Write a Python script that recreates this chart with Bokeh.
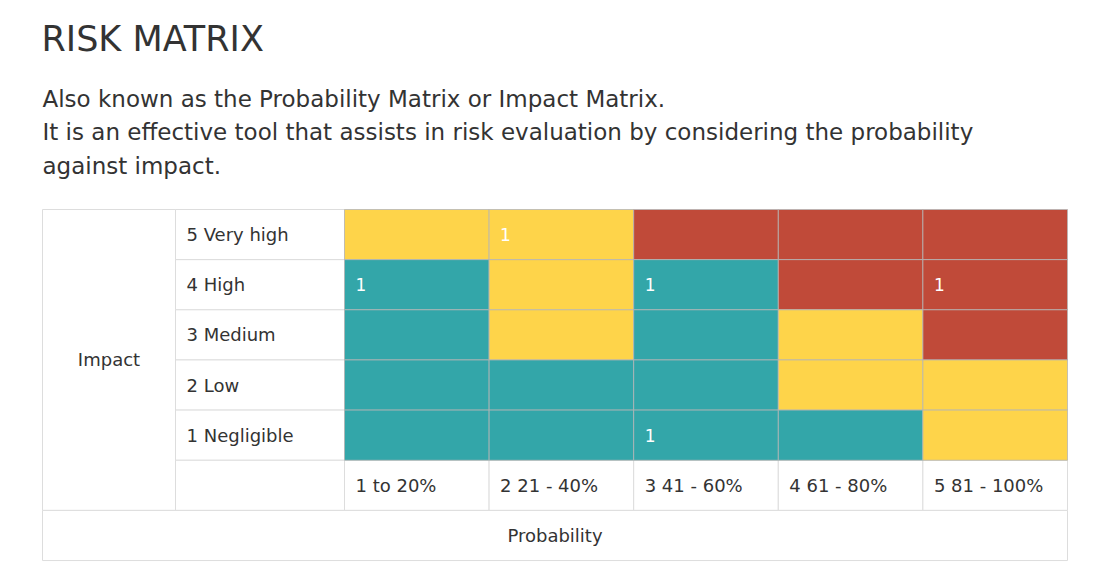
from bokeh.plotting import figure
from bokeh.models import Range1d, ColumnDataSource
from bokeh.core.properties import value
from bokeh.embed import file_html
from bokeh.resources import INLINE

# ---- data ----
title = "RISK MATRIX"
subtitle_lines = [
    "Also known as the Probability Matrix or Impact Matrix.",
    "It is an effective tool that assists in risk evaluation by considering the probability",
    "against impact.",
]
impact_labels = ["5 Very high", "4 High", "3 Medium", "2 Low", "1 Negligible"]
prob_labels = ["1 to 20%", "2 21 - 40%", "3 41 - 60%", "4 61 - 80%", "5 81 - 100%"]
row_very_high = ["medium", "medium", "high", "high", "high"]
row_high = ["low", "medium", "low", "high", "high"]
row_medium = ["low", "medium", "low", "medium", "high"]
row_low = ["low", "low", "low", "medium", "medium"]
row_negligible = ["low", "low", "low", "low", "medium"]
risk_rows = [row_very_high, row_high, row_medium, row_low, row_negligible]
count_very_high = [0, 1, 0, 0, 0]
count_high = [1, 0, 1, 0, 1]
count_medium = [0, 0, 0, 0, 0]
count_low = [0, 0, 0, 0, 0]
count_negligible = [0, 0, 1, 0, 0]
count_rows = [count_very_high, count_high, count_medium, count_low, count_negligible]
axis_y_name = "Impact"
axis_x_name = "Probability"

# ---- styles / layout ----
colors = {"low": "#33a6a9", "medium": "#fed44a", "high": "#c04a39"}
TXT = "#333333"
FONT = value("DejaVu Sans")
W, H = 1094, 565
left, top = 42.0, 209.0
impact_w, label_w = 133.0, 169.0
cell_w, row_h = 144.6, 50.15
grid_left = left + impact_w + label_w

p = figure(width=W, height=H, output_backend="svg", toolbar_location=None,
           x_range=Range1d(0, W), y_range=Range1d(H, 0),
           x_axis_location=None, y_axis_location=None, min_border=0,
           outline_line_color=None)
p.xgrid.visible = False
p.ygrid.visible = False

# title & subtitle
p.text(x=[left - 1], y=[38], text=[title], text_font=FONT, text_font_size="35px",
       text_color=TXT, text_baseline="middle", text_align="left")
p.text(x=[left] * len(subtitle_lines), y=[98 + 33.5 * i for i in range(len(subtitle_lines))],
       text=subtitle_lines, text_font=FONT, text_font_size="23px",
       text_color=TXT, text_baseline="middle", text_align="left")

# white cells with borders
white = dict(x0=[], x1=[], y0=[], y1=[])
def add_white(x0, x1, y0, y1):
    white["x0"].append(x0); white["x1"].append(x1)
    white["y0"].append(y0); white["y1"].append(y1)

total_right = grid_left + 5 * cell_w
add_white(left, left + impact_w, top, top + 6 * row_h)  # Impact
for i in range(6):
    add_white(left + impact_w, grid_left, top + i * row_h, top + (i + 1) * row_h)
for j in range(5):
    add_white(grid_left + j * cell_w, grid_left + (j + 1) * cell_w, top + 5 * row_h, top + 6 * row_h)
add_white(left, total_right, top + 6 * row_h, top + 7 * row_h)  # Probability
p.quad(left="x0", right="x1", top="y0", bottom="y1", source=ColumnDataSource(white),
       fill_color="white", line_color="#dddddd", line_width=1)

# colored cells
cells = dict(x0=[], x1=[], y0=[], y1=[], c=[])
for i, row in enumerate(risk_rows):
    for j, lvl in enumerate(row):
        cells["x0"].append(grid_left + j * cell_w)
        cells["x1"].append(grid_left + (j + 1) * cell_w)
        cells["y0"].append(top + i * row_h)
        cells["y1"].append(top + (i + 1) * row_h)
        cells["c"].append(colors[lvl])
p.quad(left="x0", right="x1", top="y0", bottom="y1", source=ColumnDataSource(cells),
       fill_color="c", line_color="#b5b5b5", line_alpha=0.8, line_width=1)

# counts
cx, cy, ct = [], [], []
for i, row in enumerate(count_rows):
    for j, n in enumerate(row):
        if n:
            cx.append(grid_left + j * cell_w + 11)
            cy.append(top + (i + 0.5) * row_h)
            ct.append(str(n))
p.text(x=cx, y=cy, text=ct, text_font=FONT, text_font_size="17px",
       text_color="white", text_baseline="middle", text_align="left")

# row labels
p.text(x=[left + impact_w + 11] * 5, y=[top + (i + 0.5) * row_h for i in range(5)],
       text=impact_labels, text_font=FONT, text_font_size="18px", text_color=TXT,
       text_baseline="middle", text_align="left")
# column labels
p.text(x=[grid_left + j * cell_w + 11 for j in range(5)], y=[top + 5.5 * row_h] * 5,
       text=prob_labels, text_font=FONT, text_font_size="18px", text_color=TXT,
       text_baseline="middle", text_align="left")
# axis names
p.text(x=[left + impact_w / 2], y=[top + 3 * row_h], text=[axis_y_name], text_font=FONT,
       text_font_size="18px", text_color=TXT, text_baseline="middle", text_align="center")
p.text(x=[(left + total_right) / 2], y=[top + 6.5 * row_h], text=[axis_x_name], text_font=FONT,
       text_font_size="18px", text_color=TXT, text_baseline="middle", text_align="center")

open("out.html", "w").write(file_html(p, INLINE))
